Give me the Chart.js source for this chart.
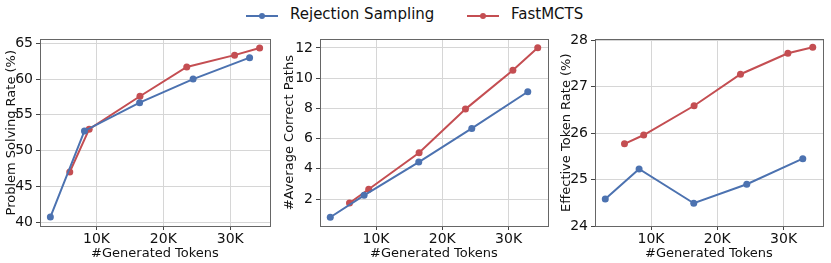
<!DOCTYPE html>
<html>
<head>
<meta charset="utf-8">
<script src="https://cdn.jsdelivr.net/npm/chart.js@4"></script>
<style>
  body { margin: 0; background: #fff; width: 831px; height: 263px; position: relative; overflow: hidden; font-family: "DejaVu Sans", sans-serif; }
  canvas { position: absolute; }
  .legend { position: absolute; top: 5px; font-size: 15px; color: #111; white-space: nowrap; }
  .legend .item { position: absolute; top: 0; }
  .legend .ln { position: absolute; top: 10px; width: 32px; height: 2px; }
  .legend .dot { position: absolute; top: 8px; left: 13px; width: 6px; height: 6px; border-radius: 50%; }
  .legend .txt { position: absolute; left: 44px; top: 0; }
</style>
</head>
<body>
<div class="legend">
  <div class="item" style="left:246px"><div class="ln" style="background:#4C72B0"></div><div class="dot" style="background:#4C72B0"></div><span class="txt">Rejection Sampling</span></div>
  <div class="item" style="left:467px"><div class="ln" style="background:#C44E52"></div><div class="dot" style="background:#C44E52"></div><span class="txt">FastMCTS</span></div>
</div>
<canvas id="c1" width="276" height="235" style="left:0;top:28px"></canvas>
<canvas id="c2" width="276" height="235" style="left:278px;top:28px"></canvas>
<canvas id="c3" width="276" height="235" style="left:555px;top:28px"></canvas>
<script>
// generated tokens (x) for each method
const rsTokens = [3100, 8200, 16450, 24450, 32900];
const mctsTokens = [6000, 8900, 16500, 23500, 30650, 34400];

// problem solving rate (%)
const rsSolve = [40.7, 52.75, 56.7, 60.0, 63.0];
const mctsSolve = [47.0, 53.0, 57.6, 61.7, 63.35, 64.35];

// average correct paths
const rsPaths = [0.8, 2.25, 4.45, 6.67, 9.1];
const mctsPaths = [1.74, 2.65, 5.06, 7.95, 10.52, 12.0];

// effective token rate (%)
const rsEff = [24.58, 25.23, 24.49, 24.9, 25.45];
const mctsEff = [25.77, 25.96, 26.59, 27.27, 27.72, 27.85];

const xTicks = [10000, 20000, 30000];
const yTicks1 = [40, 45, 50, 55, 60, 65];
const yTicks2 = [2, 4, 6, 8, 10, 12];
const yTicks3 = [24, 25, 26, 27, 28];

const BLUE = '#4C72B0', RED = '#C44E52';
const TICKFONT = { family: 'DejaVu Sans', size: 14 };
const TITLEFONT = { family: 'DejaVu Sans', size: 13 };

Chart.defaults.font.family = 'DejaVu Sans';
Chart.defaults.color = '#111';

function pts(xs, ys) { return xs.map((x, i) => ({ x: x, y: ys[i] })); }

// matplotlib style box around the plot area
const frame = {
  id: 'frame',
  afterDraw(chart) {
    const a = chart.chartArea, ctx = chart.ctx;
    ctx.save();
    ctx.strokeStyle = '#666';
    ctx.lineWidth = 1;
    ctx.strokeRect(Math.round(a.left) + 0.5, Math.round(a.top) + 0.5, Math.round(a.right - a.left), Math.round(a.bottom - a.top));
    ctx.restore();
  }
};

function makeChart(id, rsY, mctsY, yTicks, yMin, yMax, yTitle, yWidth, padRight) {
  const ds = (label, xs, ys, color) => ({
    label: label, data: pts(xs, ys), borderColor: color, backgroundColor: color,
    borderWidth: 2, pointRadius: 3.5, pointBorderWidth: 0, tension: 0
  });
  new Chart(document.getElementById(id), {
    type: 'line',
    data: { datasets: [ds('Rejection Sampling', rsTokens, rsY, BLUE), ds('FastMCTS', mctsTokens, mctsY, RED)] },
    options: {
      responsive: false, animation: false, devicePixelRatio: 1,
      layout: { padding: { top: 7, right: padRight, left: 0, bottom: 0 } },
      plugins: { legend: { display: false }, tooltip: { enabled: false } },
      scales: {
        x: {
          type: 'linear', min: 1550, max: 35950,
          afterBuildTicks: s => { s.ticks = xTicks.map(v => ({ value: v })); },
          afterFit: s => { s.height = 37; },
          ticks: { font: TICKFONT, color: '#111', padding: 1, callback: v => (v / 1000) + 'K' },
          grid: { color: '#d6d6d6', tickColor: '#444', tickLength: 4 },
          border: { display: false },
          title: { display: true, text: '#Generated Tokens', font: TITLEFONT, color: '#111', padding: { top: 0, bottom: 2 } }
        },
        y: {
          type: 'linear', min: yMin, max: yMax,
          afterBuildTicks: s => { s.ticks = yTicks.map(v => ({ value: v })); },
          afterFit: s => { s.width = yWidth; },
          ticks: { font: TICKFONT, color: '#111', padding: 3 },
          grid: { color: '#d6d6d6', tickColor: '#444', tickLength: 4 },
          border: { display: false },
          title: { display: true, text: yTitle, font: TITLEFONT, color: '#111', padding: { top: 4, bottom: 0 } }
        }
      }
    },
    plugins: [frame]
  });
}

makeChart('c1', rsSolve, mctsSolve, yTicks1, 39.45, 65.55, 'Problem Solving Rate (%)', 40, 6);
makeChart('c2', rsPaths, mctsPaths, yTicks2, 0.22, 12.56, '#Average Correct Paths', 42, 6);
makeChart('c3', rsEff, mctsEff, yTicks3, 24, 28.02, 'Effective Token Rate (%)', 40, 8);
</script>
</body>
</html>
